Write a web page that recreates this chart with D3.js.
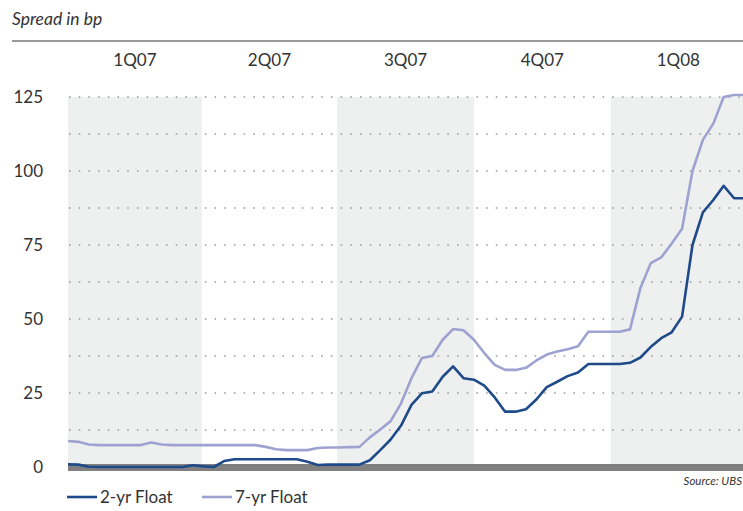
<!DOCTYPE html>
<html><head><meta charset="utf-8">
<script src="https://cdn.jsdelivr.net/npm/d3@7"></script>
<style>
body{margin:0;background:#fff;}
svg text{font-family:"Lato","Open Sans",sans-serif;fill:#333;}
</style></head>
<body><svg id="c" width="743" height="511"></svg>
<script>
// ---- data ----
const startWeek = "2007-01-01";           // first weekly observation
const quarters = ["1Q07","2Q07","3Q07","4Q07","1Q08"];
const quarterStarts = ["2007-01-01","2007-04-01","2007-07-01","2007-10-01","2008-01-01","2008-04-01"];
const yTicks = [0,25,50,75,100,125];
const seriesNames = ["2-yr Float","7-yr Float"];
const float2yr = [0.9,0.8,0.1,0,0,0,0,0,0,0,0,0,0.6,0.2,0,2,2.6,2.6,2.6,2.6,2.6,2.6,2.6,1.8,0.7,0.8,0.8,0.8,0.8,2.3,5.7,9.3,14,21,24.9,25.5,30.5,34,30,29.5,27.5,23.5,18.7,18.7,19.5,22.8,27,28.8,30.7,31.9,34.8,34.8,34.8,34.8,35.2,37,40.6,43.5,45.5,50.8,75,86,90.2,95,90.8,90.8];
const float7yr = [8.8,8.5,7.6,7.4,7.4,7.4,7.4,7.4,8.3,7.6,7.4,7.4,7.4,7.4,7.4,7.4,7.4,7.4,7.4,6.8,6.0,5.7,5.7,5.7,6.4,6.6,6.6,6.7,6.8,10,12.7,15.5,21.5,30,36.8,37.5,43,46.6,46.2,43,38.5,34.5,32.8,32.8,33.5,36,38,39,39.8,40.8,45.7,45.7,45.7,45.7,46.5,60.5,68.9,70.8,75.5,80.5,100,110.5,116,125,125.7,125.7];

const parse = d3.timeParse("%Y-%m-%d");
const t0 = parse(startWeek);
const qDates = quarterStarts.map(parse);

const svg = d3.select("#c");
const x = d3.scaleTime().domain([qDates[0], qDates[qDates.length-1]]).range([68, 746]);
const y = d3.scaleLinear().domain([0,125]).range([467, 97]);
const plotRight = 743;

// title + rule
svg.append("text").attr("x",12).attr("y",25).attr("font-size",17.5).attr("font-style","italic").text("Spread in bp");
svg.append("line").attr("x1",12).attr("x2",743).attr("y1",41).attr("y2",41).attr("stroke","#777").attr("stroke-width",1.6);

// shaded quarter bands
quarters.forEach((q,i)=>{
  const a = x(qDates[i]), b = Math.min(x(qDates[i+1]), plotRight);
  if(i%2===0){
    svg.append("rect").attr("x",a).attr("y",y(125)).attr("width",b-a).attr("height",y(0)-y(125)).attr("fill","#eef0f0");
  }
  svg.append("text").attr("x",(x(qDates[i])+x(qDates[i+1]))/2).attr("y",66).attr("text-anchor","middle").attr("font-size",17).text(q);
});

// gridlines every 12.5
const grid = d3.range(12.5, 126, 12.5);
svg.append("g").selectAll("line").data(grid).join("line")
  .attr("x1",69).attr("x2",plotRight).attr("y1",d=>y(d)).attr("y2",d=>y(d))
  .attr("stroke","#9a9a9a").attr("stroke-width",1.6).attr("stroke-dasharray","1.6,8.1");

// y axis labels
const yAxis = d3.axisLeft(y).tickValues(yTicks).tickSize(0).tickPadding(0);
const ga = svg.append("g").attr("transform","translate(43,0)").call(yAxis);
ga.select(".domain").remove();
ga.selectAll("text").attr("font-size",17).attr("fill","#333").style("font-family","Lato, 'Open Sans', sans-serif");

// zero baseline bar
svg.append("rect").attr("x",68).attr("y",y(0)-3).attr("width",plotRight-68).attr("height",7).attr("fill","#808080");

// lines
const pts = arr => arr.map((v,i)=>({d:d3.timeWeek.offset(t0,i), v}));
const line = d3.line().x(p=>x(p.d)).y(p=>y(p.v));
svg.append("defs").append("clipPath").attr("id","clip").append("rect").attr("x",68).attr("y",0).attr("width",plotRight-68).attr("height",511);
const lg = svg.append("g").attr("clip-path","url(#clip)");
lg.append("path").datum(pts(float7yr)).attr("d",line).attr("fill","none").attr("stroke","#9ea2d0").attr("stroke-width",2.6).attr("stroke-linejoin","round");
lg.append("path").datum(pts(float2yr)).attr("d",line).attr("fill","none").attr("stroke","#1f4a8a").attr("stroke-width",2.6).attr("stroke-linejoin","round");

// source
svg.append("text").attr("x",742).attr("y",485).attr("text-anchor","end").attr("font-size",11.5).attr("font-style","italic").text("Source: UBS");

// legend
const legColors = ["#1f4a8a","#9ea2d0"];
const legX = [67,202];
seriesNames.forEach((n,i)=>{
  svg.append("line").attr("x1",legX[i]).attr("x2",legX[i]+30).attr("y1",497).attr("y2",497).attr("stroke",legColors[i]).attr("stroke-width",2.6);
  svg.append("text").attr("x",legX[i]+33).attr("y",503).attr("font-size",17).text(n);
});
</script></body></html>
